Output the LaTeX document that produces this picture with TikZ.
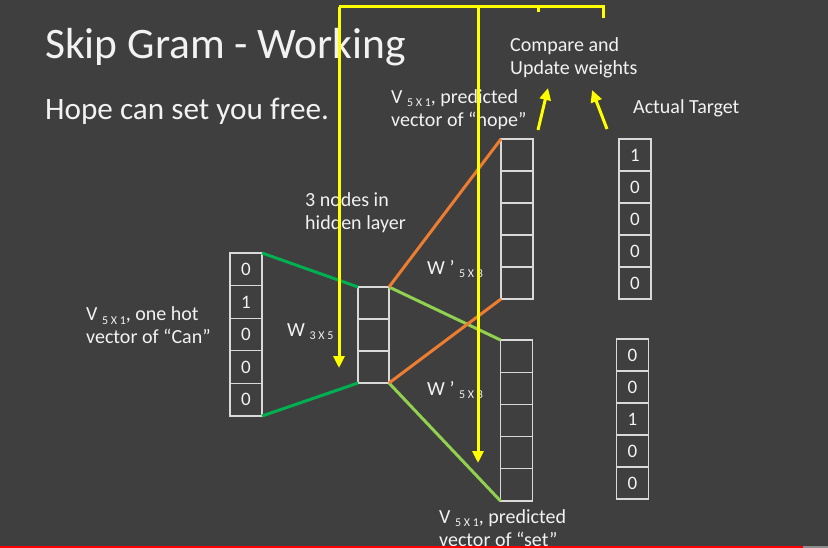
\documentclass[tikz,border=0pt]{standalone}
\usepackage{fontspec}
\setmainfont{Carlito}
\usetikzlibrary{arrows.meta}
\definecolor{bg}{HTML}{3F3F3F}
\definecolor{txt}{HTML}{F2F2F2}
\definecolor{cellc}{HTML}{D9D9D9}
\definecolor{ylw}{HTML}{FFFF00}
\definecolor{dgreen}{HTML}{00B050}
\definecolor{lgreen}{HTML}{92D050}
\definecolor{orng}{HTML}{ED7D31}
\definecolor{barred}{HTML}{FF0000}
\definecolor{bargrey}{HTML}{8C8C8C}
\newcommand\subsz[1]{\raisebox{-3pt}{\fontsize{12}{12}\selectfont #1}}
\begin{document}
\begin{tikzpicture}[x=1pt,y=-1pt,
  cell/.style={draw=cellc,line width=1.2pt,minimum width=32pt,minimum height=32pt,
    inner sep=0pt,outer sep=0pt,text=txt,font=\fontsize{19}{19}\selectfont},
  lbl/.style={anchor=base west,inner sep=0pt,text=txt,font=\fontsize{20}{20}\selectfont},
  yline/.style={draw=ylw,line width=3pt},
  yarrow/.style={yline,-{Triangle[width=11pt,length=12pt]}},
  link/.style={line width=3pt}]
\useasboundingbox (0,0) rectangle (828,548);
\fill[bg] (0,0) rectangle (828,548);
\clip (0,0) rectangle (828,548);

% vectors
\foreach \i/\v in {1/0,2/1,3/0,4/0,5/0}
  \node[cell,minimum height=32.6pt] (in\i) at (246,{253+16.3+(\i-1)*32.6}) {\v};
\foreach \i in {1,2,3}
  \node[cell,minimum width=31pt] (h\i) at (373.5,{287+16+(\i-1)*32}) {};
\foreach \i in {1,...,5}
  \node[cell] (p\i) at (517,{139+16+(\i-1)*32}) {};
\foreach \i/\v in {1/1,2/0,3/0,4/0,5/0}
  \node[cell] (t\i) at (635,{139+16+(\i-1)*32}) {\v};
\foreach \i in {1,...,5}
  \node[cell,minimum height=32.2pt] (s\i) at (516.5,{340+16.1+(\i-1)*32.2}) {};
\foreach \i/\v in {1/0,2/0,3/1,4/0,5/0}
  \node[cell] (u\i) at (632.5,{339+16+(\i-1)*32}) {\v};

% connections
\draw[link,dgreen] (in1.north east) -- (h1.north west);
\draw[link,dgreen] (in5.south east) -- (h3.south west);
\draw[link,lgreen] (h1.north east) -- (s1.north west);
\draw[link,lgreen] (h3.south east) -- (s5.south west);
\draw[link,orng] (h1.north east) -- (p1.north west);
\draw[link,orng] (h3.south east) -- (p5.south west);

% texts
\node[lbl,font=\fontsize{43.5}{43.5}\selectfont] (title) at (45,59) {Skip Gram - Working};
\node[lbl,font=\fontsize{31.2}{31.2}\selectfont] (sent) at (45,120) {Hope can set you free.};
\node[lbl] (cmp1) at (510,52) {Compare and};
\node[lbl] (cmp2) at (510,75) {Update weights};
\node[lbl] (hp1) at (391,104) {V \subsz{5 X 1}, predicted};
\node[lbl] (hp2) at (391,127) {vector of “hope”};
\node[lbl] (act) at (633,114) {Actual Target};
\node[lbl] (nd1) at (305,207) {3 nodes in};
\node[lbl] (nd2) at (305,230) {hidden layer};
\node[lbl] (oh1) at (86,321) {V \subsz{5 X 1}, one hot};
\node[lbl] (oh2) at (86,344) {vector of “Can”};
\node[lbl] (w1) at (287,337) {W \subsz{3 X 5}};
\node[lbl] (w2) at (427,275) {W ’ \subsz{5 X 3}};
\node[lbl] (w3) at (427,395) {W ’ \subsz{5 X 3}};
\node[lbl] (st1) at (439,523) {V \subsz{5 X 1}, predicted};
\node[lbl] (st2) at (439,546) {vector of “set”};

% yellow feedback lines
\coordinate (ytl) at (339,7);
\coordinate (ytm) at (478,7);
\coordinate (ytk) at (538,7);
\coordinate (ytr) at (603,7);
\coordinate (ya1) at (339,368);
\coordinate (ya2) at (478,463);
\draw[yline,line cap=butt] (ytl) -- (ytr) -- ++(0,11);
\draw[yline] (ytk) -- ++(0,5);
\draw[yarrow] (ytl) -- (ya1);
\draw[yarrow] (ytm) -- (ya2);
\coordinate (yb1) at (538,130);
\coordinate (yc1) at (548,88);
\coordinate (yb2) at (607,129);
\coordinate (yc2) at (592,90);
\draw[yarrow] (yb1) -- (yc1);
\draw[yarrow] (yb2) -- (yc2);

% progress bar
\fill[barred] (0,545.5) rectangle (803,548);
\fill[bargrey] (803,545.5) rectangle (828,548);
\end{tikzpicture}
\end{document}
